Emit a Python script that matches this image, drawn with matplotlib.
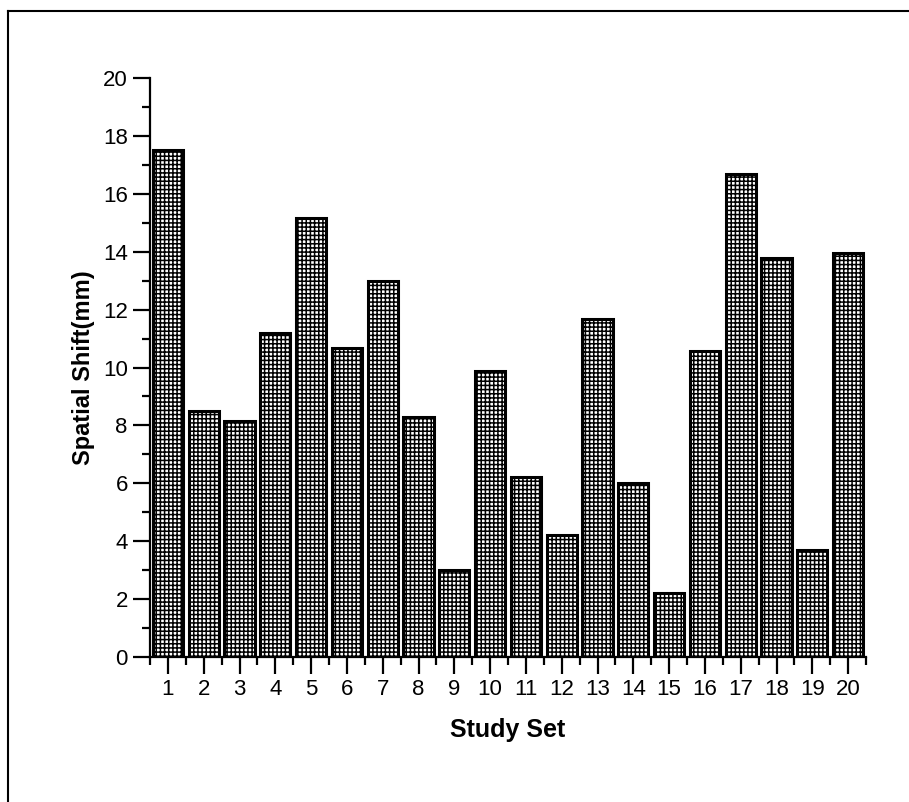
import numpy as np
import matplotlib
matplotlib.use("Agg")
import matplotlib.pyplot as plt
from matplotlib.lines import Line2D
from matplotlib.ticker import MultipleLocator

study_sets = list(range(1, 21))
spatial_shift = [17.5, 8.5, 8.15, 11.18, 15.17, 10.68, 13.0, 8.3, 3.0, 9.89,
                 6.23, 4.21, 11.66, 6.0, 2.2, 10.57, 16.67, 13.79, 3.7, 13.94]

plt.rcParams["font.family"] = ["Liberation Sans", "DejaVu Sans"]
plt.rcParams["hatch.linewidth"] = 1.1

fig = plt.figure(figsize=(9.09, 8.02), dpi=100)
ax = fig.add_axes([150 / 909, 1 - 657 / 802, (866 - 150) / 909, (657 - 78) / 802])

ax.bar(study_sets, spatial_shift, width=0.84, color="white",
       edgecolor="black", linewidth=2.2, hatch="++++")

ax.set_xlim(0.5, 20.5)
ax.set_ylim(0, 20)
ax.set_xticks(study_sets)
ax.xaxis.set_minor_locator(MultipleLocator(0.5))
ax.yaxis.set_major_locator(MultipleLocator(2))
ax.yaxis.set_minor_locator(MultipleLocator(1))

for side in ["top", "right"]:
    ax.spines[side].set_visible(False)
for side in ["left", "bottom"]:
    ax.spines[side].set_linewidth(1.6)

ax.tick_params(which="major", direction="out", length=12, width=1.6,
               labelsize=16, pad=4)
ax.tick_params(which="minor", direction="out", length=6, width=1.6)

ax.set_xlabel("Study Set", fontsize=18, fontweight="bold", labelpad=13)
ax.set_ylabel("Spatial Shift(mm)", fontsize=17, fontweight="bold", labelpad=6)

# border around the whole picture (top and left edges visible)
fig.add_artist(Line2D([8 / 909, 909 / 909], [1 - 11 / 802, 1 - 11 / 802],
                      transform=fig.transFigure, color="black", lw=1.5))
fig.add_artist(Line2D([8 / 909, 8 / 909], [0, 1 - 11 / 802],
                      transform=fig.transFigure, color="black", lw=1.5))

fig.savefig("out.png", dpi=100)
